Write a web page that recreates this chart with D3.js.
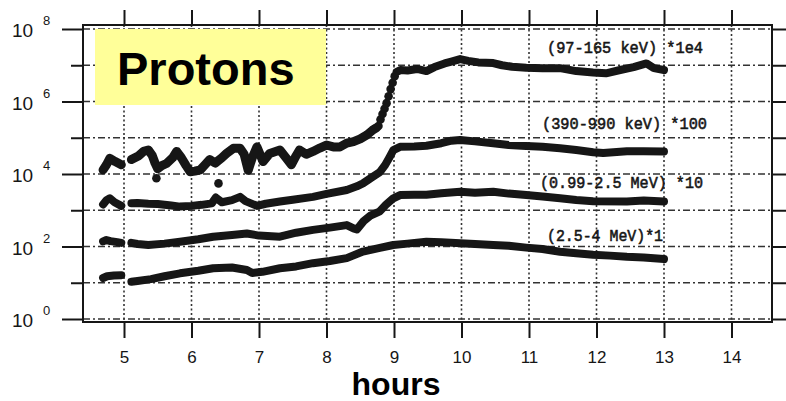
<!DOCTYPE html>
<html>
<head>
<meta charset="utf-8">
<script src="https://cdn.jsdelivr.net/npm/d3@7"></script>
<style>
  html, body { margin: 0; padding: 0; background: #fff; }
  svg { display: block; }
</style>
</head>
<body>
<svg id="chart" width="786" height="401"></svg>
<script>
// ---------------- DATA ----------------
const xTicks = [5, 6, 7, 8, 9, 10, 11, 12, 13, 14];
const yTicks = [1e0, 1e1, 1e2, 1e3, 1e4, 1e5, 1e6, 1e7, 1e8];
const yExponents = [0, 1, 2, 3, 4, 5, 6, 7, 8];
const seriesLabels = ["(97-165 keV) *1e4", "(390-990 keV) *100", "(0.99-2.5 MeV) *10", "(2.5-4 MeV)*1"];

// Series 1: 97-165 keV (x 1e4) -- NaN marks a data gap
const hours1 = [4.69,4.74,4.79,4.87,4.96,NaN,5.11,5.22,5.29,5.36,5.42,5.46,5.50,5.56,5.63,5.72,5.78,5.85,5.92,5.98,6.05,6.13,6.20,6.27,6.35,6.45,6.52,6.62,6.72,6.78,6.84,6.90,6.97,7.06,7.16,7.31,7.40,7.48,7.55,7.60,7.70,7.80,7.90,8.00,8.10,8.20,8.30,8.40,8.50,8.60,8.68,8.74];
const vals1  = [1.3e4,1.8e4,2.7e4,2.2e4,1.8e4,NaN,2.5e4,3.2e4,4.2e4,4.6e4,3.2e4,2.0e4,1.4e4,1.7e4,1.95e4,2.8e4,4.2e4,2.8e4,1.7e4,1.15e4,1.2e4,1.3e4,1.8e4,2.5e4,2.0e4,2.8e4,3.7e4,5.1e4,5.1e4,3.5e4,1.26e4,2.8e4,5.6e4,2.2e4,3.7e4,4.6e4,2.8e4,1.8e4,3.2e4,4.6e4,3.5e4,4.2e4,5.2e4,6.3e4,5.6e4,5.6e4,7.1e4,7.8e4,9.3e4,1.2e5,1.6e5,1.9e5];
// Series 1 steep rise (individual points)
const riseHours1 = [8.77,8.80,8.83,8.86,8.89,8.92,8.95,8.98,9.01];
const riseVals1  = [2.1e5,3.2e5,4.5e5,6.3e5,9.0e5,1.4e6,2.2e6,3.3e6,5.0e6];
// Series 1 after the rise
const postHours1 = [9.04,9.10,9.20,9.34,9.48,9.60,9.75,9.85,9.98,10.10,10.25,10.47,10.60,10.75,10.96,11.20,11.46,11.70,11.95,12.14,12.35,12.55,12.74,12.85,13.00];
const postVals1  = [6.6e6,7.4e6,7.2e6,7.9e6,6.9e6,8.9e6,1.12e7,1.26e7,1.48e7,1.32e7,1.2e7,1.15e7,1.0e7,9.1e6,8.5e6,8.3e6,8.3e6,6.9e6,6.3e6,6.0e6,7.4e6,8.9e6,1.12e7,8.3e6,7.4e6];
// Series 1 isolated low points
const outHours1 = [5.48, 6.40];
const outVals1  = [7.6e3, 5.5e3];

// Series 2: 390-990 keV (x 100)
const hours2 = [4.69,4.74,4.79,4.86,4.96,NaN,5.11,5.20,5.36,5.50,5.70,5.83,6.00,6.15,6.30,6.36,6.45,6.60,6.72,6.80,6.97,7.10,7.31,7.50,7.80,8.00,8.30,8.45,8.54,8.65,8.79,8.87,8.93,8.99,9.09,9.30,9.48,9.70,9.85,9.98,10.20,10.47,10.70,10.96,11.20,11.46,11.70,11.95,12.10,12.45,12.70,13.00];
const vals2  = [1450,1900,2140,1660,1320,NaN,1550,1580,1510,1480,1350,1260,1320,1410,1550,2240,1660,1900,2340,1780,1320,1510,1740,1950,2340,2820,3630,4570,5500,7590,11200,17800,28200,45700,56200,57500,60300,70800,83200,87100,79400,70800,63100,58900,56200,51300,45700,39800,38000,42700,42700,41700];

// Series 3: 0.99-2.5 MeV (x 10)
const hours3 = [4.69,4.74,4.80,4.90,4.96,NaN,5.11,5.20,5.36,5.60,5.83,6.10,6.32,6.60,6.82,7.00,7.31,7.55,7.80,8.05,8.30,8.40,8.45,8.55,8.65,8.79,8.88,8.99,9.09,9.30,9.48,9.70,9.98,10.20,10.47,10.70,10.96,11.20,11.46,11.70,11.95,12.45,12.70,13.00];
const vals3  = [138,151,141,132,126,NaN,126,117,110,120,135,158,186,209,229,200,186,240,288,331,389,316,295,501,708,933,1410,2140,2630,2690,2690,2950,3240,3020,3240,2880,2630,2400,2140,1910,1780,1740,1860,1740];

// Series 4: 2.5-4 MeV (x 1)
const hours4 = [4.69,4.75,4.85,4.96,NaN,5.11,5.20,5.40,5.60,5.83,6.10,6.32,6.60,6.82,6.90,7.05,7.31,7.55,7.80,8.05,8.30,8.54,8.79,8.99,9.20,9.48,9.70,9.98,10.20,10.47,10.70,10.96,11.20,11.46,11.70,11.95,12.20,12.45,12.70,13.00];
const vals4  = [13.5,15.1,15.8,16.2,NaN,10.7,11.2,12.6,15.1,18.2,21.4,25.1,26.3,22.4,18.6,20.0,25.1,28.2,34.7,39.8,47.9,72.4,91.2,110,120,135,132,123,117,110,105,93,85,72,65,59,56,52,50,45];

// ---------------- DRAW ----------------
const svg = d3.select("#chart");
const ink = "#161616";
const frameL = 83, frameR = 772, frameT = 25, frameB = 322;

const x = d3.scaleLinear().domain([5, 14]).range([124, 731.5]);
const y = d3.scaleLog().domain([1, 1e8]).range([319, 29]);

// gridlines
const grid = svg.append("g");
grid.selectAll("line.h").data(yTicks).join("line")
  .attr("x1", frameL).attr("x2", frameR)
  .attr("y1", d => y(d)).attr("y2", d => y(d))
  .attr("stroke", "#333").attr("stroke-width", 1.4)
  .attr("stroke-dasharray", "7,3,2,3");
grid.selectAll("line.v").data(xTicks).join("line")
  .attr("x1", d => x(d)).attr("x2", d => x(d))
  .attr("y1", frameT).attr("y2", frameB)
  .attr("stroke", "#333").attr("stroke-width", 1.6)
  .attr("stroke-dasharray", "2,2.5");

// frame
svg.append("rect").attr("x", frameL).attr("y", frameT)
  .attr("width", frameR - frameL).attr("height", frameB - frameT)
  .attr("fill", "none").attr("stroke", ink).attr("stroke-width", 2);

// axes
const axB = svg.append("g").attr("transform", `translate(0,${frameB})`)
  .call(d3.axisBottom(x).tickValues(xTicks).tickFormat(d3.format("d")).tickSize(16).tickPadding(13));
const axT = svg.append("g").attr("transform", `translate(0,${frameT})`)
  .call(d3.axisTop(x).tickValues(xTicks).tickFormat("").tickSize(15));
const axL = svg.append("g").attr("transform", `translate(${frameL},0)`)
  .call(d3.axisLeft(y).tickValues(yTicks).tickFormat("").tickSize(21));
axL.selectAll(".tick line").attr("x2", (d, i) => (yExponents[i] % 2 === 0 ? -21 : -12));
const axR = svg.append("g").attr("transform", `translate(${frameR},0)`)
  .call(d3.axisRight(y).tickValues(yTicks).tickFormat("").tickSize(14));
[axB, axT, axL, axR].forEach(a => {
  a.select(".domain").remove();
  a.selectAll(".tick line").attr("stroke", ink).attr("stroke-width", 2);
});
axB.selectAll(".tick text")
  .attr("font-family", "'Liberation Sans', Arial, sans-serif")
  .attr("font-size", 17).attr("fill", ink);

// y labels 10^n
const evenTicks = yTicks.filter((d, i) => yExponents[i] % 2 === 0);
const yl = svg.append("g").attr("font-family", "'Liberation Sans', Arial, sans-serif").attr("fill", ink);
yl.selectAll("text.base").data(evenTicks).join("text").attr("class", "base")
  .attr("x", 12).attr("y", d => y(d) + 8).attr("font-size", 19).text("10");
yl.selectAll("text.exp").data(evenTicks).join("text").attr("class", "exp")
  .attr("x", 43).attr("y", d => y(d) - 4).attr("font-size", 13)
  .text(d => Math.round(Math.log10(d)));

// series
const line = d3.line()
  .defined(d => !isNaN(d[1]))
  .x(d => x(d[0])).y(d => y(d[1]));
const zipped = (h, v) => h.map((t, i) => [t, v[i]]);

const lines = [
  zipped(hours1, vals1), zipped(postHours1, postVals1),
  zipped(hours2, vals2), zipped(hours3, vals3), zipped(hours4, vals4)
];
const widths = [9, 8, 8, 8, 8];
svg.append("g").selectAll("path").data(lines).join("path")
  .attr("d", line)
  .attr("fill", "none").attr("stroke", ink).attr("stroke-width", (d, i) => widths[i])
  .attr("stroke-linecap", "round").attr("stroke-linejoin", "round");

const dots = zipped(riseHours1, riseVals1).concat(zipped(outHours1, outVals1));
svg.append("g").selectAll("circle").data(dots).join("circle")
  .attr("cx", d => x(d[0])).attr("cy", d => y(d[1])).attr("r", 4.3).attr("fill", ink);

// series labels
const labelPos = [[547, 53, 156], [542, 129, 165], [540, 188, 163], [547, 241, 116]];
svg.append("g").selectAll("text").data(seriesLabels).join("text")
  .attr("x", (d, i) => labelPos[i][0]).attr("y", (d, i) => labelPos[i][1])
  .attr("textLength", (d, i) => labelPos[i][2]).attr("lengthAdjust", "spacingAndGlyphs")
  .attr("font-family", "'Liberation Mono', 'Courier New', monospace")
  .attr("font-size", 17).attr("fill", ink)
  .attr("stroke", ink).attr("stroke-width", 0.6)
  .text(d => d);

// Protons box
svg.append("rect").attr("x", 95).attr("y", 29).attr("width", 231).attr("height", 76)
  .attr("fill", "#ffff99");
svg.append("text").attr("x", 117).attr("y", 85)
  .attr("font-family", "'Liberation Sans', Arial, sans-serif")
  .attr("font-size", 47).attr("font-weight", "bold").attr("fill", "#000")
  .text("Protons");

// x title
svg.append("text").attr("x", 396).attr("y", 394.5).attr("text-anchor", "middle")
  .attr("font-family", "'Liberation Sans', Arial, sans-serif")
  .attr("font-size", 32).attr("font-weight", "bold").attr("fill", "#000")
  .text("hours");
</script>
</body>
</html>
